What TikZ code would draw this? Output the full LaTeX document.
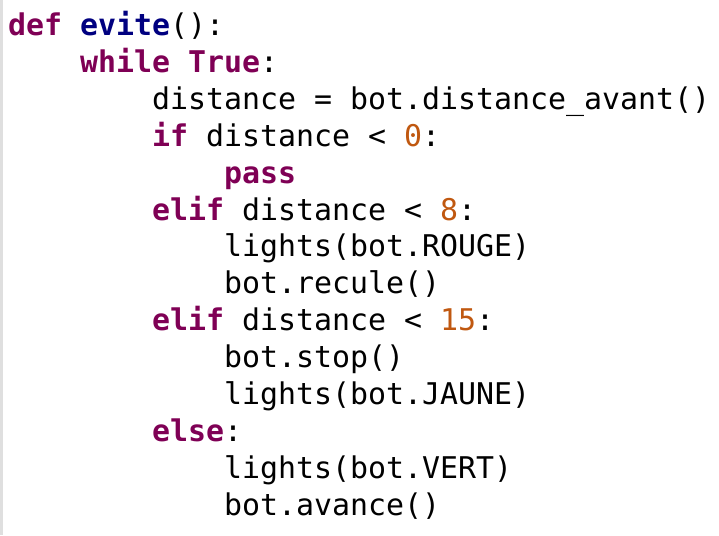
\documentclass[tikz,border=0pt]{standalone}
\usepackage{fontspec}
\setmonofont{DejaVu Sans Mono}
\usepackage{tikz}

\definecolor{kwcol}{HTML}{7F0055}
\definecolor{fncol}{HTML}{000080}
\definecolor{numcol}{RGB}{192,88,16}
\newcommand{\kw}[1]{\textbf{\textcolor{kwcol}{#1}}}
\newcommand{\fn}[1]{\textbf{\textcolor{fncol}{#1}}}
\newcommand{\num}[1]{\textcolor{numcol}{#1}}

\tikzset{codeline/.style={anchor=base west, inner sep=0pt,
  font=\ttfamily\fontsize{29.9pt}{37pt}\selectfont}}

\begin{document}
\begin{tikzpicture}[x=1pt, y=1pt]
    \useasboundingbox (0, 0) rectangle (719, -535); % page size
    \fill[gray!25] (0, 0) rectangle (2.5, -535);
    \foreach \n/\c/\t in {
        1/0/{\kw{def} \fn{evite}():},
        2/4/{\kw{while} \kw{True}:},
        3/8/{distance = bot.distance\_avant()},
        4/8/{\kw{if} distance < \num{0}:},
        5/12/{\kw{pass}},
        6/8/{\kw{elif} distance < \num{8}:},
        7/12/{lights(bot.ROUGE)},
        8/12/{bot.recule()},
        9/8/{\kw{elif} distance < \num{15}:},
        10/12/{bot.stop()},
        11/12/{lights(bot.JAUNE)},
        12/8/{\kw{else}:},
        13/12/{lights(bot.VERT)},
        14/12/{bot.avance()}}
        \node[codeline] (l\n) at ({8+18*\c}, {-35.5-36.9*(\n-1)}) {\t};
\end{tikzpicture}
\end{document}
